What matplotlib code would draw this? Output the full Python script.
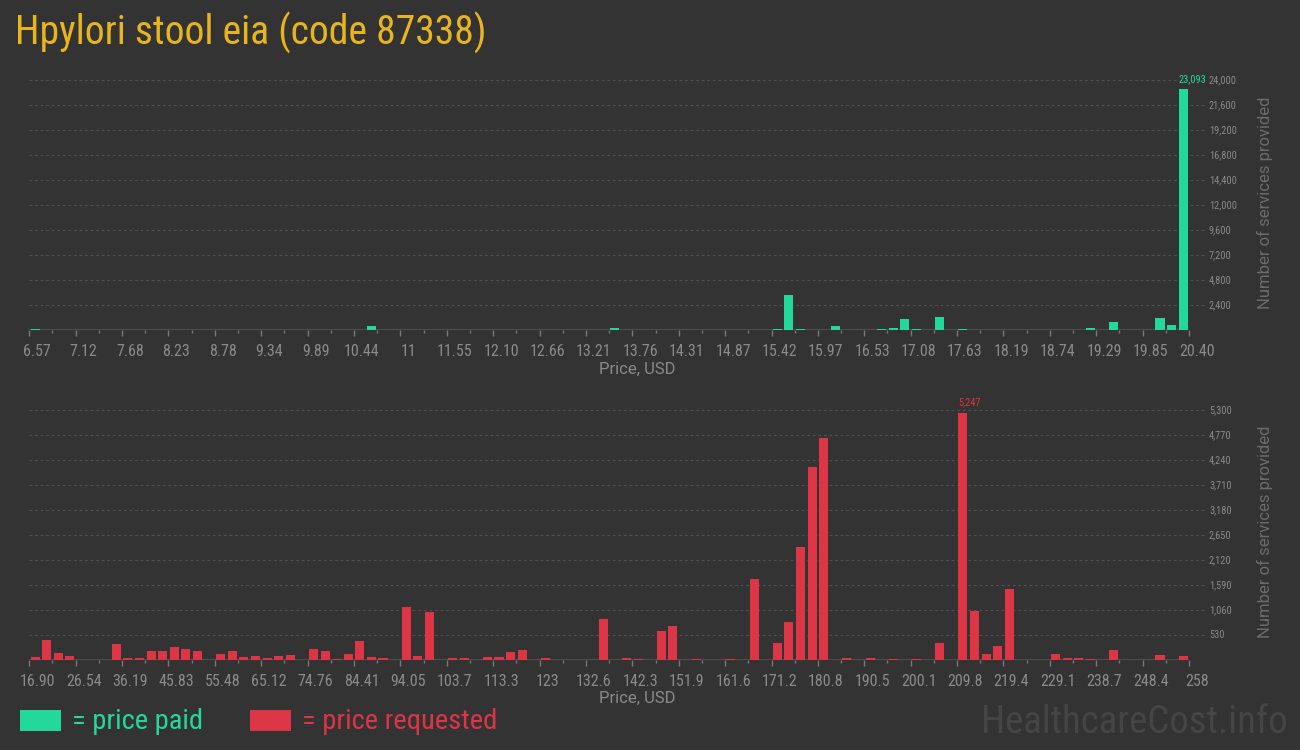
import matplotlib
matplotlib.use('Agg')
import matplotlib.pyplot as plt
from matplotlib import font_manager, transforms
from matplotlib.patches import Rectangle
import numpy as np

# pick a condensed face if one is installed
names = {f.name for f in font_manager.fontManager.ttflist}
cond = 'Roboto'
for n in ['Roboto Condensed', 'Liberation Sans Narrow', 'DejaVu Sans Condensed']:
    if n in names:
        cond = n
        break
plt.rcParams['font.family'] = [cond, 'DejaVu Sans']

BG = '#333333'
GREEN = '#22d99b'
RED = '#dc3545'
GOLD = '#e8b51c'
GREY = '#8a8a8a'

# price paid histogram (100 bins, 6.57 .. 20.40)
paid_ticks = ['6.57', '7.12', '7.68', '8.23', '8.78', '9.34', '9.89', '10.44', '11',
              '11.55', '12.10', '12.66', '13.21', '13.76', '14.31', '14.87', '15.42',
              '15.97', '16.53', '17.08', '17.63', '18.19', '18.74', '19.29', '19.85', '20.40']
paid_bins = [0, 29, 50, 64, 65, 66, 69, 73, 74, 75, 76, 78, 80, 84, 85, 89, 91, 93, 95, 96, 97, 98, 99]
paid_counts = [60, 360, 150, 80, 3380, 60, 350, 100, 190, 1060, 50, 1250, 100, 40, 40, 40,
               190, 770, 40, 40, 1150, 480, 23093]

# price requested histogram (100 bins, 16.90 .. 258)
req_ticks = ['16.90', '26.54', '36.19', '45.83', '55.48', '65.12', '74.76', '84.41', '94.05',
             '103.7', '113.3', '123', '132.6', '142.3', '151.9', '161.6', '171.2', '180.8',
             '190.5', '200.1', '209.8', '219.4', '229.1', '238.7', '248.4', '258']
req_bins = [0, 1, 2, 3, 5, 7, 8, 9, 10, 11, 12, 13, 14, 16, 17, 18, 19, 20, 21, 22, 24, 25, 26,
            27, 28, 29, 30, 32, 33, 34, 36, 37, 39, 40, 41, 42, 44, 45, 49, 51, 52, 54, 55, 57,
            60, 62, 64, 65, 66, 67, 68, 70, 72, 74, 76, 78, 79, 80, 81, 82, 83, 84, 88, 89, 90,
            91, 93, 97, 99]
req_counts = [71, 431, 155, 92, 10, 346, 50, 50, 198, 198, 283, 240, 198, 134, 198, 71, 92, 50,
              92, 113, 240, 198, 28, 134, 410, 71, 50, 1131, 92, 1025, 50, 50, 71, 71, 177, 219,
              50, 10, 877, 50, 28, 622, 728, 28, 28, 1717, 360, 806, 2396, 4092, 4707, 45, 45,
              12, 24, 364, 10, 5247, 1042, 130, 300, 1509, 134, 50, 50, 28, 219, 113, 92]

NBINS = 100

fig = plt.figure(figsize=(13, 7.5), dpi=100, facecolor=BG)
W, H = 1300.0, 750.0
left, right = 29.3, 1189.0


def panel(y_top, y_bot, bins, counts, ticks, ymax, ystep, color):
    ax = fig.add_axes([left / W, 1 - y_bot / H, (right - left) / W, (y_bot - y_top) / H])
    ax.set_facecolor(BG)
    ax.bar(np.array(bins) + 0.5, counts, width=0.78, color=color, zorder=3)
    ax.set_xlim(0, NBINS)
    ax.set_ylim(0, ymax)
    for s in ax.spines.values():
        s.set_visible(False)
    ax.axhline(0, color='#555555', lw=1.2, zorder=2)

    # dashed grid running a little past the plot, value labels to its right
    trans = transforms.blended_transform_factory(ax.transAxes, ax.transData)
    yt = np.arange(ystep, ymax + 1, ystep)
    span = right - left
    for v in yt:
        ax.plot([0, 1 + 17 / span], [v, v], transform=trans, color='#505050',
                lw=0.8, ls=(0, (2.5, 2.5)), clip_on=False, zorder=1)
        ax.text(1 + 20 / span, v, f'{int(v):,}', transform=trans, ha='left', va='center',
                fontsize=7.5, color=GREY, clip_on=False)
    ax.set_yticks([])

    ax.set_xticks(np.arange(0, NBINS + 1, 4))
    ax.set_xticklabels(ticks)
    ax.set_xticks(np.arange(2, NBINS, 4), minor=True)
    ax.tick_params(axis='x', which='major', length=4, width=1, color='#777777',
                   pad=6, labelsize=11.5, labelcolor=GREY)
    ax.tick_params(axis='x', which='minor', length=2, width=1, color='#777777')
    off = transforms.ScaledTranslation(8 / 100, 0, fig.dpi_scale_trans)
    for lab in ax.get_xticklabels():
        lab.set_transform(lab.get_transform() + off)

    # label the tallest bar
    i = int(np.argmax(counts))
    ax.annotate(f'{counts[i]:,}', (bins[i] + 0.5 - 0.39, counts[i]), xytext=(0, 4),
                textcoords='offset points', ha='left', va='bottom', fontsize=7.5,
                color=color, annotation_clip=False)
    return ax


panel(80, 330, paid_bins, paid_counts, paid_ticks, 24000, 2400, GREEN)
panel(410, 660, req_bins, req_counts, req_ticks, 5300, 530, RED)

fig.text(637 / W, 1 - 369 / H, 'Price, USD', ha='center', va='center', color=GREY, fontsize=12,
         family=['Roboto', 'DejaVu Sans'])
fig.text(637 / W, 1 - 698 / H, 'Price, USD', ha='center', va='center', color=GREY, fontsize=12,
         family=['Roboto', 'DejaVu Sans'])
for yc in (203, 532):
    fig.text(1265 / W, 1 - yc / H, 'Number of services provided', rotation=90, ha='center',
             va='center', color='#6c6c6c', fontsize=12, family=['Roboto', 'DejaVu Sans'])

fig.text(15 / W, 1 - 45 / H, 'Hpylori stool eia (code 87338)', color=GOLD, fontsize=28.5,
         va='baseline', ha='left')

fig.patches.append(Rectangle((20 / W, 1 - 731 / H), 41 / W, 21 / H, transform=fig.transFigure,
                             facecolor=GREEN, edgecolor='none'))
fig.text(72 / W, 1 - 729 / H, '= price paid', color=GREEN, fontsize=20.5, va='baseline')
fig.patches.append(Rectangle((250 / W, 1 - 731 / H), 41 / W, 21 / H, transform=fig.transFigure,
                             facecolor=RED, edgecolor='none'))
fig.text(302 / W, 1 - 729 / H, '= price requested', color=RED, fontsize=20.5, va='baseline')

fig.text(1288 / W, 1 - 733 / H, 'HealthcareCost.info', color='#454545', fontsize=28,
         va='baseline', ha='right')

fig.savefig('out.png', dpi=100, facecolor=BG)
